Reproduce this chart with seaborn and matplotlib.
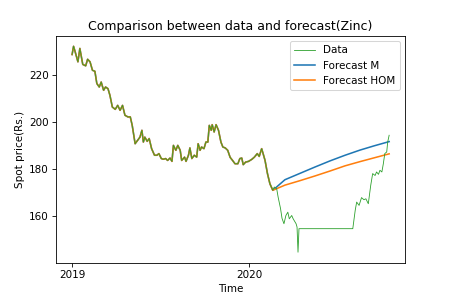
import matplotlib
matplotlib.use("Agg")
import matplotlib.pyplot as plt
import matplotlib.dates as mdates
import seaborn as sns
import pandas as pd

data_dates = [
    "2019-01-01", "2019-01-04", "2019-01-07", "2019-01-13", "2019-01-17", "2019-01-23",
    "2019-01-29", "2019-02-02", "2019-02-07", "2019-02-12", "2019-02-17", "2019-02-21",
    "2019-02-26", "2019-03-02", "2019-03-07", "2019-03-11", "2019-03-16", "2019-03-20",
    "2019-03-25", "2019-03-31", "2019-04-05", "2019-04-10", "2019-04-15", "2019-04-20",
    "2019-04-26", "2019-05-01", "2019-05-05", "2019-05-11", "2019-05-16", "2019-05-21",
    "2019-05-25", "2019-05-28", "2019-05-31", "2019-06-05", "2019-06-09", "2019-06-14",
    "2019-06-20", "2019-06-25", "2019-06-29", "2019-07-04", "2019-07-08", "2019-07-13",
    "2019-07-17", "2019-07-22", "2019-07-26", "2019-07-29", "2019-08-03", "2019-08-07",
    "2019-08-12", "2019-08-15", "2019-08-21", "2019-08-24", "2019-08-29", "2019-09-01",
    "2019-09-05", "2019-09-10", "2019-09-15", "2019-09-18", "2019-09-22", "2019-09-25",
    "2019-09-30", "2019-10-04", "2019-10-08", "2019-10-11", "2019-10-15", "2019-10-17",
    "2019-10-21", "2019-10-25", "2019-10-30", "2019-11-04", "2019-11-08", "2019-11-13",
    "2019-11-18", "2019-11-23", "2019-11-28", "2019-12-03", "2019-12-09", "2019-12-13",
    "2019-12-17", "2019-12-20", "2019-12-25", "2019-12-31", "2020-01-07", "2020-01-12",
    "2020-01-18", "2020-01-22", "2020-01-27", "2020-01-30", "2020-02-03", "2020-02-08",
    "2020-02-13", "2020-02-19", "2020-02-22", "2020-02-27", "2020-03-01", "2020-03-06",
    "2020-03-09", "2020-03-13", "2020-03-17", "2020-03-21", "2020-03-24", "2020-03-29",
    "2020-04-01", "2020-04-07", "2020-04-09", "2020-04-11", "2020-04-13", "2020-08-02",
    "2020-08-07", "2020-08-10", "2020-08-15", "2020-08-20", "2020-08-25", "2020-08-29",
    "2020-09-03", "2020-09-08", "2020-09-12", "2020-09-17", "2020-09-20", "2020-09-24",
    "2020-09-27", "2020-10-01", "2020-10-04", "2020-10-07", "2020-10-11", "2020-10-13",
    "2020-10-16",
]
data_values = [
    228.8, 232.3, 230.2, 225.7, 231.4, 224.6,
    224.0, 226.8, 225.7, 222.1, 221.7, 216.5,
    215.0, 217.1, 213.6, 215.0, 214.3, 211.5,
    206.5, 205.5, 207.2, 205.1, 207.2, 203.0,
    202.3, 202.3, 198.7, 190.9, 192.3, 193.7,
    196.6, 191.6, 193.7, 191.9, 193.1, 188.8,
    186.0, 186.0, 186.7, 184.6, 184.3, 184.6,
    183.8, 184.8, 183.4, 190.2, 188.1, 190.2,
    188.1, 183.8, 185.2, 183.4, 186.0, 189.1,
    184.6, 186.0, 185.2, 190.9, 188.1, 189.5,
    188.8, 191.6, 191.6, 198.7, 196.6, 199.0,
    195.9, 199.0, 196.6, 191.6, 189.5, 189.1,
    188.1, 185.1, 183.8, 182.4, 182.4, 184.6,
    184.8, 182.0, 183.1, 183.4, 184.3, 185.2,
    186.7, 185.5, 188.8, 186.7, 183.8, 178.2,
    173.9, 171.1, 172.5, 171.8, 168.2, 163.3,
    159.2, 156.9, 160.4, 161.8, 159.0, 160.4,
    159.0, 156.9, 155.5, 144.8, 154.8, 154.8,
    162.6, 166.1, 164.7, 168.0, 167.1, 167.5,
    165.4, 173.2, 178.2, 177.4, 178.9, 177.9,
    179.6, 178.9, 182.4, 186.7, 187.4, 191.6,
    194.5,
]

forecast_start = "2020-02-19"
forecast_dates = [
    "2020-03-15", "2020-04-15", "2020-05-16", "2020-06-16",
    "2020-07-17", "2020-08-17", "2020-09-15", "2020-10-16",
]
forecast_m = [175.6, 178.3, 181.0, 183.6, 186.0, 188.2, 190.0, 191.8]
forecast_hom = [173.3, 175.2, 177.2, 179.3, 181.5, 183.3, 184.9, 186.6]

data = pd.DataFrame({"Time": pd.to_datetime(data_dates), "price": data_values})
hist = data[data["Time"] <= pd.Timestamp(forecast_start)]
fc_time = pd.to_datetime(forecast_dates)
m_df = pd.concat([hist, pd.DataFrame({"Time": fc_time, "price": forecast_m})], ignore_index=True)
hom_df = pd.concat([hist, pd.DataFrame({"Time": fc_time, "price": forecast_hom})], ignore_index=True)

fig, ax = plt.subplots(figsize=(6, 4), dpi=75)
sns.lineplot(data=m_df, x="Time", y="price", ax=ax, color="#1f77b4", linewidth=1.5, label="Forecast M")
sns.lineplot(data=hom_df, x="Time", y="price", ax=ax, color="#ff7f0e", linewidth=1.5, label="Forecast HOM")
sns.lineplot(data=data, x="Time", y="price", ax=ax, color="#2ca02c", linewidth=0.8, label="Data")

handles, labels = ax.get_legend_handles_labels()
order = [labels.index("Data"), labels.index("Forecast M"), labels.index("Forecast HOM")]
ax.legend([handles[i] for i in order], [labels[i] for i in order], loc="upper right")

ax.xaxis.set_major_locator(mdates.YearLocator())
ax.xaxis.set_major_formatter(mdates.DateFormatter("%Y"))
ax.set_title("Comparison between data and forecast(Zinc)")
ax.set_xlabel("Time")
ax.set_ylabel("Spot price(Rs.)")
ax.set_yticks([160, 180, 200, 220])
fig.subplots_adjust(bottom=0.125)
fig.savefig("out.png", dpi=75)
